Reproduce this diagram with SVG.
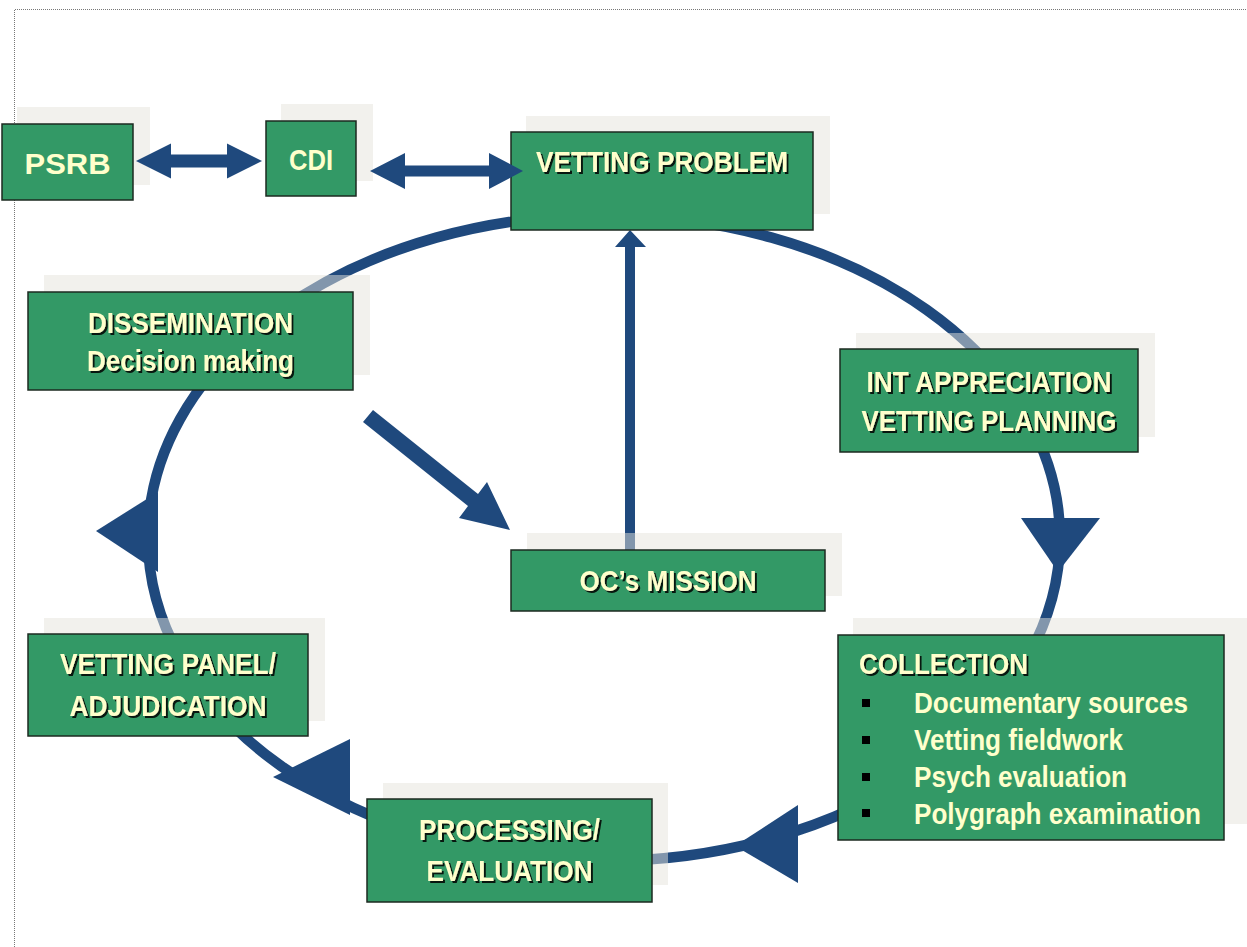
<svg xmlns="http://www.w3.org/2000/svg" width="1247" height="947" viewBox="0 0 1247 947">
<defs>
<filter id="ts" x="-5%" y="-20%" width="115%" height="150%">
<feDropShadow dx="2" dy="2" stdDeviation="0.6" flood-color="#000" flood-opacity="0.85"/>
</filter>
<style>
.panel{fill:#E6E4DC;opacity:0.5}
.box{fill:#339966;stroke:#1c2a20;stroke-width:1.5}
.t{font-family:"Liberation Sans",Arial,sans-serif;font-weight:bold;font-size:30px;fill:#FFFFCC;text-anchor:middle}
.sh{filter:url(#ts)}
.b{font-family:"Liberation Sans",Arial,sans-serif;font-weight:bold;font-size:29px;fill:#FFFFCC}
.conn{fill:#1F497D;stroke:none}
.arc{fill:none;stroke:#1F497D;stroke-width:10.5}
.frame{fill:none;stroke:#777;stroke-width:1;stroke-dasharray:1 1}
</style>
</defs>
<rect x="0" y="0" width="1247" height="947" fill="#fff"/>
<path class="frame" d="M14.5,947 V9.5 H1247"/>

<g id="connectors">
<ellipse class="arc" cx="604" cy="538" rx="456" ry="323"/>
<polygon class="conn" points="1021,518 1100,518 1058,572"/>
<polygon class="conn" points="798,805 798,883 735,846"/>
<polygon class="conn" points="350,739 350,815 273,777"/>
<polygon class="conn" points="158,492 158,572 96,531"/>
<polygon class="conn" points="373,410 478,494 487,482 510,530 459,518 468,506 363,422"/>
<polygon class="conn" points="625,550 625,247 615,247 630,230 646,247 635,247 635,550"/>
</g>

<g id="psrb">
<rect class="panel" x="17" y="107" width="133" height="78"/>
<rect class="box" x="2" y="124" width="131" height="76"/>
<text class="t" x="67.5" y="174" font-size="31" textLength="86" lengthAdjust="spacingAndGlyphs">PSRB</text>
</g>

<g id="cdi">
<rect class="panel" x="281" y="104" width="92" height="77"/>
<rect class="box" x="266" y="121" width="90" height="75"/>
<text class="t" x="311" y="170" font-size="31" textLength="44" lengthAdjust="spacingAndGlyphs">CDI</text>
</g>

<g id="vetting-problem">
<rect class="panel" x="526" y="116" width="304" height="98"/>
<rect class="box" x="511" y="132" width="302" height="98"/>
<text class="t sh" x="662" y="172" font-size="31" textLength="252" lengthAdjust="spacingAndGlyphs">VETTING PROBLEM</text>
</g>

<g id="dissemination">
<rect class="panel" x="44" y="275" width="326" height="100"/>
<rect class="box" x="28" y="292" width="325" height="98"/>
<text class="t sh" x="190.5" y="333" textLength="205" lengthAdjust="spacingAndGlyphs">DISSEMINATION</text>
<text class="t sh" x="190.5" y="371" textLength="207" lengthAdjust="spacingAndGlyphs">Decision making</text>
</g>

<g id="int-appreciation">
<rect class="panel" x="856" y="333" width="299" height="104"/>
<rect class="box" x="840" y="349" width="298" height="103"/>
<text class="t sh" x="989" y="392" textLength="245" lengthAdjust="spacingAndGlyphs">INT APPRECIATION</text>
<text class="t sh" x="989" y="431" textLength="255" lengthAdjust="spacingAndGlyphs">VETTING PLANNING</text>
</g>

<g id="oc-mission">
<rect class="panel" x="527" y="533" width="315" height="63"/>
<rect class="box" x="511" y="550" width="314" height="61"/>
<text class="t sh" x="668" y="591" textLength="177" lengthAdjust="spacingAndGlyphs">OC’s MISSION</text>
</g>

<g id="collection">
<rect class="panel" x="853" y="618" width="394" height="206"/>
<rect class="box" x="838" y="635" width="386" height="205"/>
<text class="b sh" x="859" y="674" textLength="169" lengthAdjust="spacingAndGlyphs">COLLECTION</text>
<rect x="862" y="699" width="8" height="8" fill="#000"/>
<rect x="862" y="736" width="8" height="8" fill="#000"/>
<rect x="862" y="773" width="8" height="8" fill="#000"/>
<rect x="862" y="809" width="8" height="8" fill="#000"/>
<text class="b" x="914" y="713" textLength="274" lengthAdjust="spacingAndGlyphs">Documentary sources</text>
<text class="b" x="914" y="750" textLength="209" lengthAdjust="spacingAndGlyphs">Vetting fieldwork</text>
<text class="b" x="914" y="787" textLength="213" lengthAdjust="spacingAndGlyphs">Psych evaluation</text>
<text class="b" x="914" y="824" textLength="287" lengthAdjust="spacingAndGlyphs">Polygraph examination</text>
</g>

<g id="vetting-panel">
<rect class="panel" x="44" y="618" width="281" height="103"/>
<rect class="box" x="28" y="634" width="280" height="102"/>
<text class="t sh" x="168" y="674" textLength="216" lengthAdjust="spacingAndGlyphs">VETTING PANEL/</text>
<text class="t sh" x="168" y="716" textLength="197" lengthAdjust="spacingAndGlyphs">ADJUDICATION</text>
</g>

<g id="processing">
<rect class="panel" x="383" y="783" width="285" height="102"/>
<rect class="box" x="367" y="799" width="285" height="103"/>
<text class="t sh" x="509.5" y="840" textLength="181" lengthAdjust="spacingAndGlyphs">PROCESSING/</text>
<text class="t sh" x="509.5" y="881" textLength="166" lengthAdjust="spacingAndGlyphs">EVALUATION</text>
</g>

<g id="connectors-links">
<polygon class="conn" points="136,161 171,143.5 171,154.5 227,154.5 227,143.5 262,161 227,178.5 227,167.5 171,167.5 171,178.5"/>
<polygon class="conn" points="370,171 405,153 405,165.5 489,165.5 489,153 523,171 489,189 489,176.5 405,176.5 405,189"/>
</g>
</svg>
